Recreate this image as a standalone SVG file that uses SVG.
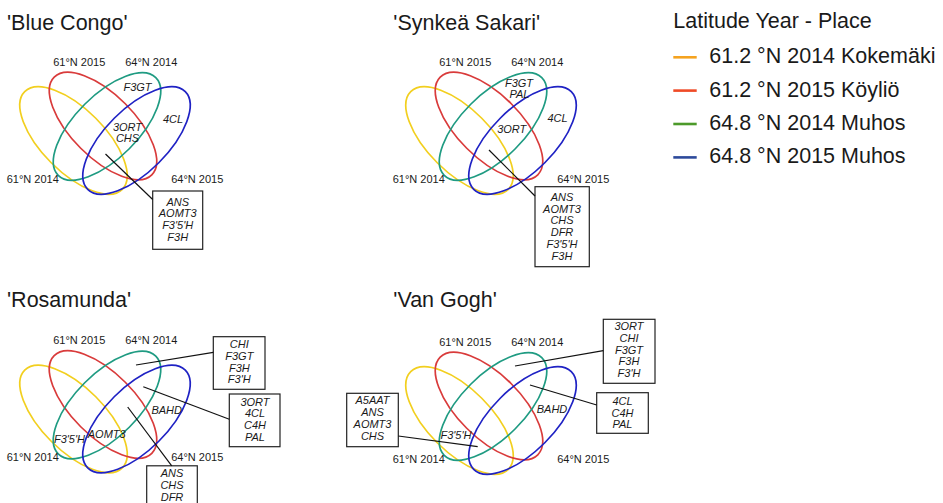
<svg xmlns="http://www.w3.org/2000/svg" xmlns:xlink="http://www.w3.org/1999/xlink" width="943" height="503" viewBox="0 0 943 503">
  <style>
    text { font-family: "Liberation Sans", Arial, sans-serif; fill: #1a1a1a; }
    .title { font-size: 21.5px; }
    .leg { font-size: 21.5px; }
    .set { font-size: 11px; text-anchor: middle; }
    .gene { font-size: 11px; font-style: italic; text-anchor: middle; }
    .ell { fill: none; stroke-width: 1.7; }
    .y { stroke: #f2cf1f; }
    .r { stroke: #d93b3b; }
    .t { stroke: #1f9b82; }
    .b { stroke: #1f22c4; }
    .box { fill: #ffffff; stroke: #222222; stroke-width: 1.2; }
    .lead { stroke: #111111; stroke-width: 1.2; fill: none; }
    .key { stroke-width: 2.6; }
  </style>
  <defs>
    <!-- four-set ellipse layout with set labels, shared by every panel -->
    <g id="venn">
      <ellipse class="ell y" cx="73.5" cy="140.5" rx="69" ry="31.5" transform="rotate(45 73.5 140.5)"/>
      <ellipse class="ell r" cx="103" cy="126" rx="69" ry="31.5" transform="rotate(45 103 126)"/>
      <ellipse class="ell t" cx="107" cy="126.5" rx="69" ry="31.5" transform="rotate(-45 107 126.5)"/>
      <ellipse class="ell b" cx="136.5" cy="140.5" rx="69" ry="31.5" transform="rotate(-45 136.5 140.5)"/>
      <text class="set" x="79.3" y="65.7">61°N 2015</text>
      <text class="set" x="151.2" y="65.7">64°N 2014</text>
      <text class="set" x="32.8" y="182.7">61°N 2014</text>
      <text class="set" x="197.2" y="182.7">64°N 2015</text>
    </g>
  </defs>

  <!-- Blue Congo -->
  <g id="panel-blue-congo">
    <text class="title" x="7" y="29.5">'Blue Congo'</text>
    <use xlink:href="#venn" href="#venn"/>
    <g id="bc-labels">
      <text class="gene" x="137.5" y="91">F3GT</text>
      <text class="gene" x="173" y="122.7">4CL</text>
      <text class="gene" x="127.5" y="130.7">3ORT</text>
      <text class="gene" x="127.5" y="141.7">CHS</text>
    </g>
    <g id="bc-box">
      <rect class="box" x="152.7" y="191" width="50" height="58.3"/>
      <text class="gene" x="177.7" y="205.5">ANS</text>
      <text class="gene" x="177.7" y="217.3">AOMT3</text>
      <text class="gene" x="177.7" y="229.1">F3'5'H</text>
      <text class="gene" x="177.7" y="240.9">F3H</text>
    </g>
  </g>

  <!-- Synkeä Sakari -->
  <g id="panel-synkea-sakari">
    <text class="title" x="393.3" y="29.5">'Synkeä Sakari'</text>
    <use xlink:href="#venn" href="#venn" transform="translate(386 0)"/>
    <g id="ss-labels">
      <text class="gene" x="519" y="86.7">F3GT</text>
      <text class="gene" x="519.5" y="98">PAL</text>
      <text class="gene" x="557.5" y="121.7">4CL</text>
      <text class="gene" x="511.7" y="133.3">3ORT</text>
    </g>
    <g id="ss-box">
      <rect class="box" x="535" y="186.7" width="54.3" height="80"/>
      <text class="gene" x="562" y="200.7">ANS</text>
      <text class="gene" x="562" y="212.5">AOMT3</text>
      <text class="gene" x="562" y="224.3">CHS</text>
      <text class="gene" x="562" y="236.1">DFR</text>
      <text class="gene" x="562" y="247.9">F3'5'H</text>
      <text class="gene" x="562" y="259.7">F3H</text>
    </g>
  </g>

  <!-- Rosamunda -->
  <g id="panel-rosamunda">
    <text class="title" x="7" y="306.7">'Rosamunda'</text>
    <use xlink:href="#venn" href="#venn" transform="translate(0 278.5)"/>
    <g id="ro-labels">
      <text class="gene" x="166.7" y="414">BAHD</text>
      <text class="gene" x="106.7" y="438.3">AOMT3</text>
      <text class="gene" x="69.5" y="443.3">F3'5'H</text>
    </g>
    <g id="ro-box-1">
      <rect class="box" x="213.3" y="336.7" width="51.7" height="52.6"/>
      <text class="gene" x="239.3" y="348">CHI</text>
      <text class="gene" x="239.3" y="359.8">F3GT</text>
      <text class="gene" x="239.3" y="371.6">F3H</text>
      <text class="gene" x="239.3" y="383.4">F3'H</text>
    </g>
    <g id="ro-box-2">
      <rect class="box" x="229.3" y="394" width="50.7" height="52.7"/>
      <text class="gene" x="255" y="405.5">3ORT</text>
      <text class="gene" x="255" y="417.3">4CL</text>
      <text class="gene" x="255" y="429.1">C4H</text>
      <text class="gene" x="255" y="440.9">PAL</text>
    </g>
    <g id="ro-box-3">
      <rect class="box" x="146.7" y="465.8" width="50.6" height="50"/>
      <text class="gene" x="172" y="477">ANS</text>
      <text class="gene" x="172" y="488.8">CHS</text>
      <text class="gene" x="172" y="500.6">DFR</text>
    </g>
  </g>

  <!-- Van Gogh -->
  <g id="panel-van-gogh">
    <text class="title" x="393.3" y="306.7">'Van Gogh'</text>
    <use xlink:href="#venn" href="#venn" transform="translate(386 280)"/>
    <g id="vg-labels">
      <text class="gene" x="552" y="412.5">BAHD</text>
      <text class="gene" x="456" y="439">F3'5'H</text>
    </g>
    <g id="vg-box-1">
      <rect class="box" x="603.3" y="319.3" width="51.7" height="64"/>
      <text class="gene" x="629" y="330">3ORT</text>
      <text class="gene" x="629" y="341.8">CHI</text>
      <text class="gene" x="629" y="353.6">F3GT</text>
      <text class="gene" x="629" y="365.4">F3H</text>
      <text class="gene" x="629" y="377.2">F3'H</text>
    </g>
    <g id="vg-box-2">
      <rect class="box" x="596.7" y="392.7" width="51.6" height="40.6"/>
      <text class="gene" x="622.5" y="404.7">4CL</text>
      <text class="gene" x="622.5" y="416.5">C4H</text>
      <text class="gene" x="622.5" y="428.3">PAL</text>
    </g>
    <g id="vg-box-3">
      <rect class="box" x="346.7" y="393.3" width="51.6" height="53.4"/>
      <text class="gene" x="372.5" y="404.3">A5AAT</text>
      <text class="gene" x="372.5" y="416.1">ANS</text>
      <text class="gene" x="372.5" y="427.9">AOMT3</text>
      <text class="gene" x="372.5" y="439.7">CHS</text>
    </g>
  </g>

  <!-- leader lines from regions to their gene boxes -->
  <g id="connectors">
    <line class="lead" x1="105.5" y1="154" x2="152.7" y2="199.5"/>
    <line class="lead" x1="489" y1="150" x2="535" y2="196"/>
    <line class="lead" x1="136" y1="365" x2="213.3" y2="352.3"/>
    <line class="lead" x1="143.3" y1="386.7" x2="229.3" y2="419.3"/>
    <line class="lead" x1="127.7" y1="407" x2="171.7" y2="465.8"/>
    <line class="lead" x1="515" y1="366" x2="603.3" y2="350.7"/>
    <line class="lead" x1="530" y1="385" x2="596.7" y2="405"/>
    <line class="lead" x1="398.3" y1="436" x2="477.7" y2="446.7"/>
  </g>

  <!-- legend -->
  <g id="legend">
    <text class="leg" x="673.3" y="28.3">Latitude Year - Place</text>
    <line class="key" x1="673.3" y1="57.3" x2="696.7" y2="57.3" stroke="#f5a31f"/>
    <text class="leg" x="709.3" y="63.3">61.2 °N 2014 Kokemäki</text>
    <line class="key" x1="673.3" y1="90.6" x2="696.7" y2="90.6" stroke="#ef4a26"/>
    <text class="leg" x="709.3" y="96.6">61.2 °N 2015 Köyliö</text>
    <line class="key" x1="673.3" y1="124" x2="696.7" y2="124" stroke="#4c9a2a"/>
    <text class="leg" x="709.3" y="130">64.8 °N 2014 Muhos</text>
    <line class="key" x1="673.3" y1="157.4" x2="696.7" y2="157.4" stroke="#2d4a9b"/>
    <text class="leg" x="709.3" y="163.4">64.8 °N 2015 Muhos</text>
  </g>
</svg>
